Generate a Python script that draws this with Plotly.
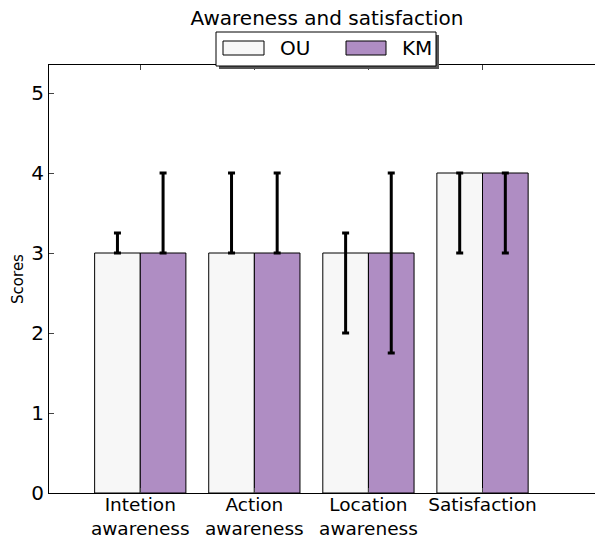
import plotly.graph_objects as go

# Survey results: mean scores with asymmetric error ranges per condition
categories = ["Intetion<br>awareness", "Action<br>awareness", "Location<br>awareness", "Satisfaction"]
ou_scores = [3, 3, 3, 4]
ou_err_plus = [0.25, 1, 0.25, 0]
ou_err_minus = [0, 0, 1, 1]
km_scores = [3, 3, 3, 4]
km_err_plus = [1, 1, 1, 0]
km_err_minus = [0, 0, 1.25, 1]
y_ticks = [0, 1, 2, 3, 4, 5]

OU_COLOR = "#f7f7f7"
KM_COLOR = "#af8dc3"
FONT = "DejaVu Sans"

W, H = 595, 542
L, R, T, B = 49, 0, 65, 49
bar_w = 0.4
idx = list(range(len(categories)))

fig = go.Figure()
for name, vals, ep, em, color, off in [
    ("OU", ou_scores, ou_err_plus, ou_err_minus, OU_COLOR, 0.2),
    ("KM", km_scores, km_err_plus, km_err_minus, KM_COLOR, 0.6),
]:
    fig.add_trace(go.Bar(
        name=name,
        x=[i + off for i in idx],
        y=vals,
        width=bar_w,
        marker=dict(color=color, line=dict(color="black", width=1)),
        error_y=dict(type="data", symmetric=False, array=ep, arrayminus=em,
                     color="black", thickness=3, width=3.5),
        showlegend=False,
    ))

# pixel -> paper helpers for the framed legend
pw, ph = W - L - R, H - T - B
def px(x):
    return (x - L) / pw
def py(y):
    return (H - B - y) / ph

shapes = [
    # legend shadow and frame
    dict(type="rect", xref="paper", yref="paper", x0=px(219), x1=px(439), y0=py(69), y1=py(35),
         fillcolor="#555555", line=dict(width=0), layer="above"),
    dict(type="rect", xref="paper", yref="paper", x0=px(216), x1=px(436), y0=py(66), y1=py(32),
         fillcolor="white", line=dict(color="black", width=1), layer="above"),
    dict(type="rect", xref="paper", yref="paper", x0=px(223), x1=px(264), y0=py(55), y1=py(41),
         fillcolor=OU_COLOR, line=dict(color="black", width=1), layer="above"),
    dict(type="rect", xref="paper", yref="paper", x0=px(346), x1=px(386), y0=py(55), y1=py(41),
         fillcolor=KM_COLOR, line=dict(color="black", width=1), layer="above"),
]
annotations = [
    dict(text="OU", xref="paper", yref="paper", x=px(278), y=py(48), xanchor="left", yanchor="middle",
         showarrow=False, font=dict(family=FONT, size=20, color="black")),
    dict(text="KM", xref="paper", yref="paper", x=px(400), y=py(48), xanchor="left", yanchor="middle",
         showarrow=False, font=dict(family=FONT, size=20, color="black")),
]

fig.update_layout(
    width=W, height=H,
    margin=dict(l=L, r=R, t=T, b=B, pad=0),
    paper_bgcolor="white", plot_bgcolor="white",
    font=dict(family=FONT, color="black", size=19),
    title=dict(text="Awareness and satisfaction", xref="paper", x=px(327), xanchor="center",
               yref="container", y=1 - 18 / H, yanchor="middle",
               font=dict(family=FONT, size=20, color="black")),
    barmode="overlay",
    shapes=shapes,
    annotations=annotations,
)
fig.update_xaxes(
    range=[-0.4, 4.386],
    tickvals=[i + 0.4 for i in idx], ticktext=categories,
    ticks="inside", ticklen=5, tickcolor="#444444",
    showline=True, linecolor="black", linewidth=1, mirror="allticks",
    showgrid=False, zeroline=False, automargin=False,
    ticklabelstandoff=-5,
    tickfont=dict(family=FONT, size=18.5, color="black"),
)
fig.update_yaxes(
    range=[0, 5.35], tickvals=y_ticks,
    ticks="inside", ticklen=5, tickcolor="#444444",
    showline=True, linecolor="black", linewidth=1,
    showgrid=False, zeroline=False, automargin=False,
    tickfont=dict(family=FONT, size=20, color="black"),
    title=dict(text="Scores", font=dict(family=FONT, size=15, color="black"), standoff=4),
)

fig.write_html("out.html")
